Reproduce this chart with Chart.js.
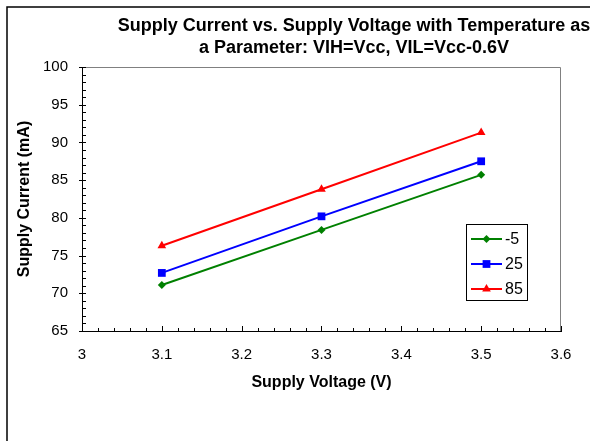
<!DOCTYPE html>
<html lang="en">
<head>
<meta charset="UTF-8"/>
<title>Supply Current vs. Supply Voltage</title>
<script src="https://cdn.jsdelivr.net/npm/chart.js@4.4.7/dist/chart.umd.min.js"></script>
<style>
*{margin:0;padding:0;box-sizing:border-box}
body{background:#fff;width:590px;height:441px;overflow:hidden}
#wrap{position:relative;width:590px;height:441px}
</style>
</head>
<body>
<div id="wrap"><canvas id="chart" width="590" height="441"></canvas></div>
<script>
// values
const voltages    = [3.1, 3.3, 3.5];
const seriesNames = ['-5', '25', '85'];
const currentM5   = [71.1, 78.4, 85.7];
const current25   = [72.7, 80.2, 87.5];
const current85   = [76.3, 83.8, 91.3];

const xTicks      = [3, 3.1, 3.2, 3.3, 3.4, 3.5, 3.6];
const xTickLabels = ['3', '3.1', '3.2', '3.3', '3.4', '3.5', '3.6'];
const yTicks      = [65, 70, 75, 80, 85, 90, 95, 100];
const yTickLabels = ['65', '70', '75', '80', '85', '90', '95', '100'];

const titleLines = ['Supply Current vs. Supply Voltage with Temperature as', 'a Parameter: VIH=Vcc, VIL=Vcc-0.6V'];
const xTitle = 'Supply Voltage (V)';
const yTitle = 'Supply Current (mA)';

const FONT = "'Liberation Sans', Arial, sans-serif";

const styles = [
  { color: '#008000', pointStyle: 'rectRot',  radius: 4 },
  { color: '#0000ff', pointStyle: 'rect',     radius: 5.5 },
  { color: '#ff0000', pointStyle: 'triangle', radius: 5 },
];
const allSeries = [currentM5, current25, current85];

const datasets = allSeries.map((vals, i) => ({
  label: seriesNames[i],
  data: vals.map((y, j) => ({ x: voltages[j], y })),
  showLine: true,
  borderColor: styles[i].color,
  backgroundColor: styles[i].color,
  borderWidth: 2,
  pointStyle: styles[i].pointStyle,
  pointRadius: styles[i].radius,
  pointHoverRadius: styles[i].radius,
  pointBorderWidth: 0,
}));

const decor = {
  id: 'decor',
  afterDraw(chart) {
    const { ctx, chartArea: a, scales: { x, y } } = chart;
    ctx.save();

    // outer frame (clipped on right/bottom like the reference)
    ctx.strokeStyle = '#000';
    ctx.lineWidth = 1.5;
    ctx.beginPath();
    ctx.moveTo(7, 450); ctx.lineTo(7, 7); ctx.lineTo(600, 7);
    ctx.stroke();

    // top/right border of plot area
    ctx.strokeStyle = '#808080';
    ctx.lineWidth = 1;
    ctx.beginPath();
    ctx.moveTo(a.left, a.top + 0.5); ctx.lineTo(a.right - 0.5, a.top + 0.5); ctx.lineTo(a.right - 0.5, a.bottom);
    ctx.stroke();

    // minor / major ticks
    ctx.strokeStyle = '#000';
    ctx.beginPath();
    for (let k = 0; k <= 30; k++) {
      const px = Math.round(x.getPixelForValue(3 + k * 0.02)) + 0.5;
      const len = k % 5 === 0 ? 5 : 3;
      ctx.moveTo(px, a.bottom); ctx.lineTo(px, a.bottom - len);
    }
    for (let k = 0; k <= 35; k++) {
      const py = Math.round(y.getPixelForValue(65 + k)) + 0.5;
      const major = k % 5 === 0;
      ctx.moveTo(a.left - (major ? 3 : 0), py); ctx.lineTo(a.left + 4, py);
    }
    ctx.stroke();

    // titles
    ctx.fillStyle = '#000';
    ctx.textAlign = 'center';
    ctx.textBaseline = 'middle';
    ctx.font = 'bold 18px ' + FONT;
    ctx.fillText(titleLines[0], 354, 26);
    ctx.fillText(titleLines[1], 354, 48);
    ctx.font = 'bold 16px ' + FONT;
    ctx.fillText(xTitle, (a.left + a.right) / 2, 383);
    ctx.save();
    ctx.translate(25, (a.top + a.bottom) / 2);
    ctx.rotate(-Math.PI / 2);
    ctx.fillText(yTitle, 0, 0);
    ctx.restore();

    // legend
    ctx.lineWidth = 1;
    ctx.strokeStyle = '#000';
    ctx.strokeRect(466.5, 224.5, 61, 76);
    ctx.font = '16px ' + FONT;
    ctx.textAlign = 'left';
    chart.data.datasets.forEach((ds, i) => {
      const ly = 239 + i * 25;
      ctx.strokeStyle = ds.borderColor;
      ctx.lineWidth = 2;
      ctx.beginPath(); ctx.moveTo(471, ly); ctx.lineTo(502, ly); ctx.stroke();
      ctx.fillStyle = ds.backgroundColor;
      Chart.helpers.drawPoint(ctx, { pointStyle: ds.pointStyle, radius: ds.pointRadius, borderWidth: 0 }, 486.5, ly);
      ctx.fillStyle = '#000';
      ctx.fillText(ds.label, 505, ly + 1);
    });
    ctx.restore();
  }
};

new Chart(document.getElementById('chart'), {
  type: 'scatter',
  data: { datasets },
  options: {
    responsive: false,
    animation: false,
    events: [],
    layout: { padding: { left: 0, right: 29, top: 67, bottom: 0 } },
    plugins: { legend: { display: false }, tooltip: { enabled: false }, title: { display: false } },
    scales: {
      x: {
        type: 'linear', min: 3, max: 3.6,
        afterFit: (s) => { s.height = 110; },
        afterBuildTicks: (s) => { s.ticks = xTicks.map(v => ({ value: v })); },
        grid: { display: false, drawTicks: false },
        border: { display: true, color: '#000', width: 1 },
        ticks: { padding: 15, color: '#000', font: { family: FONT, size: 15 }, maxRotation: 0,
                 callback: (v, i) => xTickLabels[i] },
      },
      y: {
        type: 'linear', min: 65, max: 100,
        afterFit: (s) => { s.width = 82; },
        afterBuildTicks: (s) => { s.ticks = yTicks.map(v => ({ value: v })); },
        grid: { display: false, drawTicks: false },
        border: { display: true, color: '#000', width: 1 },
        ticks: { padding: 14, color: '#000', font: { family: FONT, size: 15 },
                 callback: (v, i) => yTickLabels[i] },
      },
    },
  },
  plugins: [decor],
});
</script>
</body>
</html>
